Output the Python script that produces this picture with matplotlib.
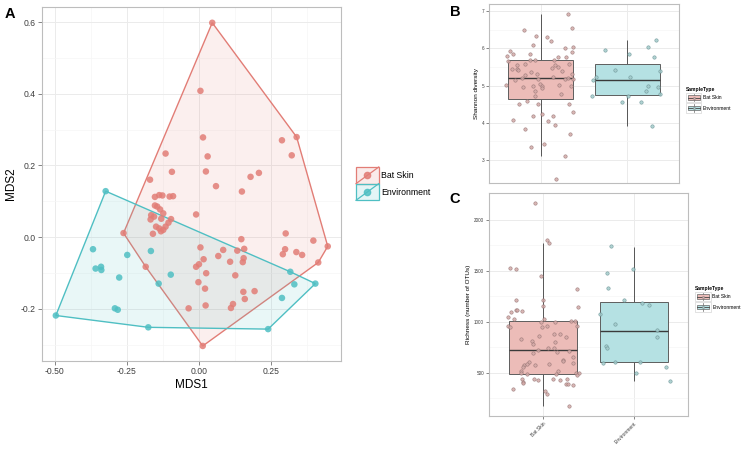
import numpy as np
import matplotlib
matplotlib.use("Agg")
import matplotlib.pyplot as plt
from matplotlib.patches import Patch, Rectangle, Polygon
from matplotlib.lines import Line2D
from matplotlib.legend_handler import HandlerBase
from matplotlib.colors import to_rgba

plt.rcParams['font.family'] = ['Liberation Sans', 'DejaVu Sans']

# ---------------- data ----------------
groups = ["Bat Skin", "Environment"]

# panel A: NMDS coordinates
bat_mds1 = [0.046, 0.005, 0.339, 0.288, 0.322, 0.014, 0.030, 0.024, 0.059, -0.116,
            -0.094, -0.170, 0.179, 0.208, 0.149, -0.010,
            -0.153, -0.138, -0.127, -0.090, -0.102, -0.153, -0.145, -0.135, -0.166, -0.156,
            -0.124, -0.168, -0.131, -0.097, -0.106, -0.149, -0.138, -0.124, -0.116, -0.160,
            -0.132, -0.262, -0.185, 0.005, -0.010, 0.000, 0.016, 0.025, -0.002, 0.021,
            0.023, -0.036, 0.013, 0.067, 0.084, 0.108, 0.126, 0.118, 0.111, 0.133,
            0.147, 0.157, 0.155, 0.152, 0.154, 0.159, 0.193, 0.301, 0.299, 0.291,
            0.338, 0.358, 0.397, 0.447, 0.414]
bat_mds2 = [0.598, 0.408, 0.279, 0.270, 0.228, 0.278, 0.225, 0.183, 0.142, 0.233,
            0.182, 0.160, 0.168, 0.179, 0.127, 0.063,
            0.112, 0.117, 0.116, 0.114, 0.113, 0.088, 0.085, 0.077, 0.061, 0.057,
            0.066, 0.049, 0.051, 0.050, 0.040, 0.029, 0.024, 0.020, 0.029, 0.009,
            0.016, 0.011, -0.083, -0.029, -0.083, -0.076, -0.062, -0.101, -0.126, -0.144,
            -0.191, -0.199, -0.304, -0.053, -0.036, -0.069, -0.107, -0.187, -0.198, -0.038,
            -0.006, -0.033, -0.059, -0.070, -0.153, -0.173, -0.151, 0.010, -0.034, -0.048,
            -0.042, -0.050, -0.010, -0.026, -0.071]
env_mds1 = [-0.324, -0.368, -0.249, -0.167, -0.359, -0.340, -0.339, -0.277, -0.098, -0.140,
            -0.292, -0.282, -0.497, -0.176, 0.240, 0.288, 0.317, 0.331, 0.404]
env_mds2 = [0.128, -0.034, -0.050, -0.039, -0.088, -0.083, -0.092, -0.113, -0.105, -0.130,
            -0.199, -0.203, -0.219, -0.252, -0.257, -0.170, -0.097, -0.132, -0.130]

# panel B: Shannon diversity (jitter offset, value)
bat_sh_jit = [0.32, -0.196, 0.365, -0.058, 0.073, 0.115, -0.088, 0.285, 0.369, 0.362,
              -0.358, -0.392, -0.327, -0.123, 0.204, 0.296, -0.381, -0.131, -0.073, 0.154,
              0.327, -0.338, -0.277, -0.188, 0.169, 0.135, 0.2, 0.25, -0.277, -0.262,
              -0.115, -0.046, 0.365, -0.188, 0.146, 0.281, 0.373, 0.312, -0.296, -0.223,
              -0.027, -0.212, -0.092, -0.004, 0.012, 0.019, -0.4, 0.212, 0.35, 0.238,
              -0.073, -0.073, -0.165, -0.258, -0.027, 0.327, 0.373, 0.012, -0.085, 0.142,
              0.088, -0.323, 0.162, -0.188, 0.335, 0.038, -0.119, 0.281, 0.181]
bat_sh = [6.93, 6.51, 6.55, 6.34, 6.31, 6.19, 6.10, 6.01, 6.04, 5.90,
          5.92, 5.80, 5.86, 5.84, 5.76, 5.77, 5.65, 5.68, 5.69, 5.68,
          5.59, 5.45, 5.56, 5.57, 5.56, 5.47, 5.49, 5.40, 5.44, 5.41,
          5.37, 5.31, 5.32, 5.28, 5.23, 5.17, 5.17, 5.19, 5.16, 5.21,
          5.17, 4.95, 5.00, 5.05, 5.00, 4.94, 5.02, 5.01, 4.98, 4.78,
          4.86, 4.73, 4.58, 4.50, 4.50, 4.51, 4.28, 4.22, 4.17, 4.19,
          4.05, 4.06, 3.94, 3.83, 3.70, 3.41, 3.35, 3.11, 2.49]
env_sh_jit = [-0.258, -0.142, -0.365, -0.392, 0.023, 0.031, 0.242, 0.335, 0.315, 0.385,
              0.238, 0.215, 0.358, 0.381, -0.404, 0.012, -0.065, 0.158, 0.292]
env_sh = [5.95, 5.43, 5.22, 5.14, 5.85, 5.24, 6.05, 6.24, 5.76, 5.40,
          5.00, 4.86, 4.95, 4.77, 4.71, 4.73, 4.56, 4.55, 3.90]
# box stats: q1, median, q3, lower whisker, upper whisker
sh_q1 = [4.64, 4.75]
sh_med = [5.20, 5.14]
sh_q3 = [5.68, 5.59]
sh_lo = [3.11, 3.90]
sh_hi = [6.93, 6.24]

# panel C: richness (jitter offset, value)
bat_ri_jit = [-0.089, 0.041, 0.067, -0.363, -0.296, -0.03, 0.378, -0.296, -0.007, 0.389,
              -0.007, -0.304, -0.289, -0.237, -0.356, -0.393, -0.322, 0.011, -0.03, 0.13,
              0.311, 0.352, -0.389, -0.363, -0.015, 0.044, 0.378, 0.122, 0.185, 0.248,
              -0.052, -0.244, -0.122, -0.063, 0.052, 0.115, 0.152, -0.119, -0.115, 0.133,
              0.281, 0.222, 0.222, 0.33, 0.33, -0.156, -0.211, -0.185, -0.089, 0.063,
              -0.222, -0.241, -0.241, -0.181, 0.159, 0.144, 0.359, 0.396, 0.37, -0.233,
              -0.222, -0.219, -0.104, -0.056, 0.104, 0.185, 0.259, 0.252, 0.278, 0.333,
              -0.33, 0.015, 0.041, 0.281]
bat_ri = [2170, 1805, 1776, 1527, 1517, 1448, 1327, 1218, 1218, 1146,
          1153, 1120, 1117, 1103, 1094, 1051, 1025, 1025, 999, 999,
          1005, 1012, 959, 949, 949, 962, 959, 877, 880, 848,
          861, 828, 815, 723, 739, 746, 703, 779, 690, 802,
          713, 628, 612, 657, 595, 605, 575, 585, 572, 582,
          552, 513, 500, 490, 516, 487, 493, 493, 474, 438,
          411, 398, 434, 428, 434, 425, 438, 385, 389, 382,
          336, 323, 293, 169]
env_ri_jit = [-0.248, -0.011, -0.293, -0.289, -0.107, 0.096, 0.17, -0.374, -0.204, 0.256,
              0.259, -0.307, -0.293, -0.207, -0.341, 0.074, 0.352, 0.026, 0.396]
env_ri = [1746, 1517, 1481, 1336, 1215, 1186, 1166, 1077, 979, 917,
          848, 766, 739, 608, 592, 602, 556, 497, 421]
ri_q1 = [490, 605]
ri_med = [720, 913]
ri_q3 = [1008, 1195]
ri_lo = [169, 421]
ri_hi = [1773, 1740]

# ---------------- styling ----------------
RED = '#E27D76'
TEAL = '#4FBFC3'
BOX_FILL = ['#ECBCB8', '#B5E1E3']
PT_FACE = ['#D3A9A7', '#A3CACB']
PT_EDGE = ['#8F6F6E', '#648E90']
GRID_MAJ = '#EBEBEB'
GRID_MIN = '#F6F6F6'
SPINE = '#BDBDBD'


def hull(xs, ys):
    pts = sorted(zip(xs, ys))

    def cross(o, a, b):
        return (a[0] - o[0]) * (b[1] - o[1]) - (a[1] - o[1]) * (b[0] - o[0])
    lower, upper = [], []
    for p in pts:
        while len(lower) >= 2 and cross(lower[-2], lower[-1], p) <= 0:
            lower.pop()
        lower.append(p)
    for p in reversed(pts):
        while len(upper) >= 2 and cross(upper[-2], upper[-1], p) <= 0:
            upper.pop()
        upper.append(p)
    return lower[:-1] + upper[:-1]


def style_axes(ax, labelsize, ticklen):
    ax.set_facecolor('white')
    ax.grid(True, which='major', color=GRID_MAJ, lw=0.7)
    ax.grid(True, which='minor', color=GRID_MIN, lw=0.5)
    ax.set_axisbelow(True)
    for s in ax.spines.values():
        s.set_color(SPINE)
        s.set_linewidth(0.8)
    ax.tick_params(which='major', labelsize=labelsize, length=ticklen, width=0.5,
                   color='#555555', labelcolor='#3F3F3F', pad=1.5)
    ax.tick_params(which='minor', length=0)


class HullKey(HandlerBase):
    def create_artists(self, legend, orig_handle, xdescent, ydescent, width, height, fontsize, trans):
        c = orig_handle.get_edgecolor()
        x0, y0 = -xdescent, -ydescent
        box = Rectangle((x0, y0), width, height, facecolor=to_rgba(c, 0.15),
                        edgecolor=c, lw=0.9, transform=trans)
        diag = Line2D([x0, x0 + width], [y0, y0 + height], color=c, lw=0.9, transform=trans)
        dot = Line2D([x0 + width / 2], [y0 + height / 2], marker='o', ms=4.5, color=c,
                     alpha=0.85, transform=trans)
        return [box, diag, dot]


class BoxKey(HandlerBase):
    def create_artists(self, legend, orig_handle, xdescent, ydescent, width, height, fontsize, trans):
        fc = orig_handle.get_facecolor()
        ec = orig_handle.get_edgecolor()
        x0, y0 = -xdescent, -ydescent
        bg = Rectangle((x0, y0), width, height, facecolor='white', edgecolor='#CCCCCC',
                       lw=0.4, transform=trans)
        wh = Line2D([x0 + width / 2] * 2, [y0 + 0.1 * height, y0 + 0.9 * height],
                    color='#666666', lw=0.5, transform=trans)
        bx = Rectangle((x0 + 0.1 * width, y0 + 0.25 * height), 0.8 * width, 0.5 * height,
                       facecolor=fc, edgecolor='#666666', lw=0.5, transform=trans)
        md = Line2D([x0 + 0.1 * width, x0 + 0.9 * width], [y0 + height / 2] * 2,
                    color='#444444', lw=0.6, transform=trans)
        dot = Line2D([x0 + width / 2], [y0 + height / 2], marker='o', ms=1.6,
                     markerfacecolor=ec, markeredgecolor='#777777', mew=0.3, transform=trans)
        return [bg, wh, bx, md, dot]


fig = plt.figure(figsize=(7.49, 4.51), dpi=100)
W, H = 749.0, 451.0


def px_axes(left, top, right, bottom):
    return fig.add_axes([left / W, 1 - bottom / H, (right - left) / W, (bottom - top) / H])


# ---------------- panel A ----------------
axA = px_axes(42, 7, 341, 361)
style_axes(axA, 6.2, 3)
for xs, ys, c in [(bat_mds1, bat_mds2, RED), (env_mds1, env_mds2, TEAL)]:
    poly = Polygon(hull(xs, ys), closed=True, facecolor=to_rgba(c, 0.12),
                   edgecolor=c, lw=1.0, zorder=2)
    axA.add_patch(poly)
for xs, ys, c in [(bat_mds1, bat_mds2, RED), (env_mds1, env_mds2, TEAL)]:
    axA.scatter(xs, ys, s=22, color=c, alpha=0.85, edgecolors='none', zorder=3)
axA.set_xlim(-0.545, 0.493)
axA.set_ylim(-0.346, 0.642)
axA.set_xticks([-0.5, -0.25, 0.0, 0.25])
axA.set_xticklabels(['-0.50', '-0.25', '0.00', '0.25'])
axA.set_xticks([-0.375, -0.125, 0.125, 0.375], minor=True)
axA.set_yticks([-0.2, 0.0, 0.2, 0.4, 0.6])
axA.set_yticklabels(['-0.2', '0.0', '0.2', '0.4', '0.6'])
axA.set_yticks([-0.3, -0.1, 0.1, 0.3, 0.5], minor=True)
axA.set_xlabel('MDS1', fontsize=8.5, labelpad=2)
axA.set_ylabel('MDS2', fontsize=8.5, labelpad=3)

hA = [Patch(edgecolor=RED, facecolor=RED, label='Bat Skin'),
      Patch(edgecolor=TEAL, facecolor=TEAL, label='Environment')]
fig.legend(handles=hA, handler_map={Patch: HullKey()}, loc='upper left',
           bbox_to_anchor=(356 / W, 1 - 167 / H), frameon=False, fontsize=6.3,
           handlelength=2.6, handleheight=2.55, labelspacing=0.0, handletextpad=0.3,
           borderpad=0, borderaxespad=0)

# ---------------- panels B and C ----------------
def box_panel(ax, q1, med, q3, lo, hi, jits, vals):
    for i in range(2):
        ax.vlines(i + 1, lo[i], hi[i], color='#555555', lw=0.7, zorder=2)
    stats = [dict(q1=q1[i], med=med[i], q3=q3[i], whislo=lo[i], whishi=hi[i],
                  fliers=[], label=groups[i]) for i in range(2)]
    bp = ax.bxp(stats, positions=[1, 2], widths=0.75, patch_artist=True,
                showcaps=False, showfliers=False,
                boxprops=dict(edgecolor='#5E5E5E', lw=0.7),
                whiskerprops=dict(lw=0),
                medianprops=dict(color='#3A3A3A', lw=1.0), zorder=3)
    for patch, fc in zip(bp['boxes'], BOX_FILL):
        patch.set_facecolor(fc)
    for i in range(2):
        xs = [i + 1 + j for j in jits[i]]
        ax.scatter(xs, vals[i], s=6, facecolor=PT_FACE[i], edgecolor=PT_EDGE[i],
                   linewidths=0.4, alpha=0.85, zorder=4)
    ax.set_xlim(0.4, 2.6)


axB = px_axes(489, 4, 679, 183)
style_axes(axB, 3.3, 2)
box_panel(axB, sh_q1, sh_med, sh_q3, sh_lo, sh_hi,
          [bat_sh_jit, env_sh_jit], [bat_sh, env_sh])
axB.set_ylim(2.37, 7.2)
axB.set_yticks([3, 4, 5, 6, 7])
axB.set_yticklabels(['3', '4', '5', '6', '7'])
axB.set_yticks([3.5, 4.5, 5.5, 6.5], minor=True)
axB.set_xticks([1, 2])
axB.set_xticklabels([])
axB.tick_params(axis='x', length=0)
axB.set_ylabel('Shannon diversity', fontsize=4.6, labelpad=2)

axC = px_axes(489, 193, 688, 416)
style_axes(axC, 3.3, 2)
box_panel(axC, ri_q1, ri_med, ri_q3, ri_lo, ri_hi,
          [bat_ri_jit, env_ri_jit], [bat_ri, env_ri])
axC.set_ylim(74, 2266)
axC.set_yticks([500, 1000, 1500, 2000])
axC.set_yticklabels(['500', '1000', '1500', '2000'])
axC.set_yticks([250, 750, 1250, 1750], minor=True)
axC.set_xticks([1, 2])
axC.set_xticklabels(groups, rotation=45, ha='right', va='top', rotation_mode='anchor',
                    fontsize=3.6)
axC.set_ylabel('Richness (number of OTUs)', fontsize=4.6, labelpad=2)

hB = [Patch(facecolor=BOX_FILL[0], edgecolor=PT_FACE[0], label='Bat Skin'),
      Patch(facecolor=BOX_FILL[1], edgecolor=PT_FACE[1], label='Environment')]
for anchor, kw in [((686, 87), dict(handlelength=3.0, handleheight=2.6)),
                   ((695, 286), dict(handlelength=3.1, handleheight=2.6))]:
    fig.legend(handles=hB, handler_map={Patch: BoxKey()}, loc='upper left',
               bbox_to_anchor=(anchor[0] / W, 1 - anchor[1] / H), frameon=False,
               fontsize=3.6, title='SampleType', alignment='left',
               title_fontproperties={'size': 3.6, 'weight': 'bold'},
               labelspacing=0.15, handletextpad=0.4, borderpad=0, borderaxespad=0, **kw)

# panel letters
fig.text(9.5 / W, 1 - 14.5 / H, 'A', fontsize=10.5, fontweight='bold', ha='center', va='center')
fig.text(455 / W, 1 - 11.5 / H, 'B', fontsize=10.5, fontweight='bold', ha='center', va='center')
fig.text(455 / W, 1 - 199 / H, 'C', fontsize=10.5, fontweight='bold', ha='center', va='center')

fig.savefig('out.png', dpi=100)
